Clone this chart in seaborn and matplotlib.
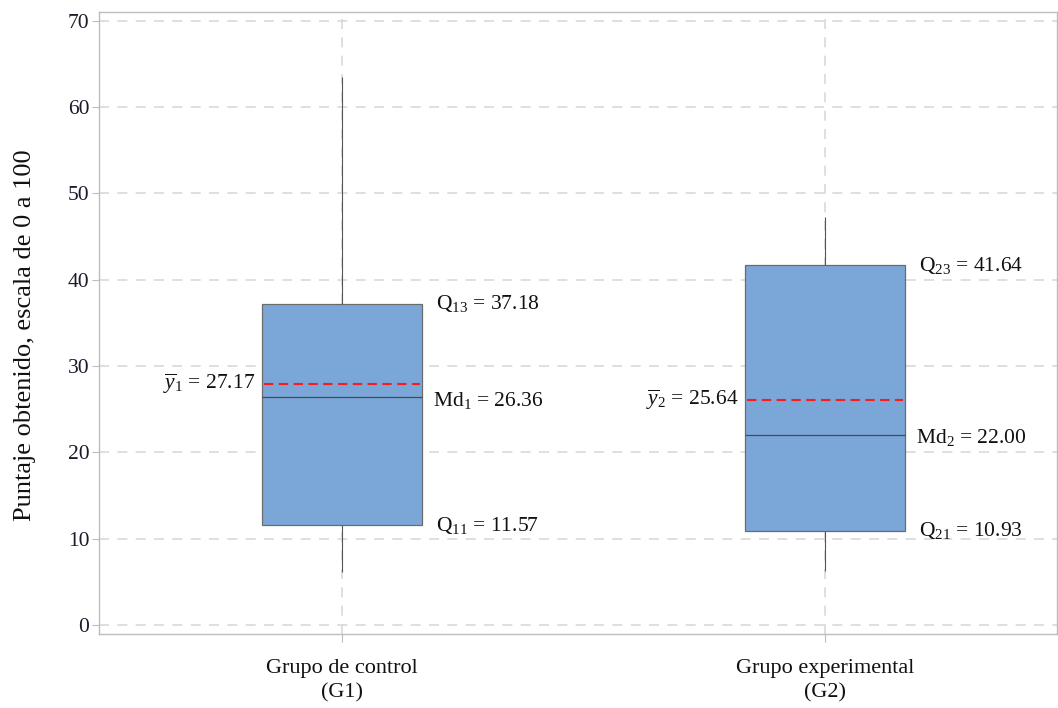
import numpy as np
import pandas as pd
import matplotlib
matplotlib.use("Agg")
import matplotlib.pyplot as plt
import seaborn as sns

# ---- data ----
groups = ["Grupo de control\n(G1)", "Grupo experimental\n(G2)"]
mins = [6.1, 6.2]
q1s = [11.57, 10.93]
medians = [26.36, 22.00]
q3s = [37.18, 41.64]
maxs = [63.5, 47.3]
means_drawn = [27.9, 26.1]
mean_labels = ["27.17", "25.64"]
q1_labels = ["11.57", "10.93"]
med_labels = ["26.36", "22.00"]
q3_labels = ["37.18", "41.64"]
yticks = [0, 10, 20, 30, 40, 50, 60, 70]

sns.set_theme(style="white")
plt.rcParams["font.family"] = ["Liberation Serif", "DejaVu Serif"]
plt.rcParams["mathtext.fontset"] = "custom"
plt.rcParams["mathtext.rm"] = "Liberation Serif"
plt.rcParams["mathtext.it"] = "Liberation Serif:italic"

# five-number data so that quartiles are exact with linear percentiles
rows = []
for g, a, b, c, d, e in zip(groups, mins, q1s, medians, q3s, maxs):
    for v in (a, b, c, d, e):
        rows.append({"grupo": g, "valor": v})
df = pd.DataFrame(rows)

fig = plt.figure(figsize=(10.58, 7.08), dpi=100)
ax = fig.add_axes([99 / 1058, 1 - 634 / 708, 958 / 1058, 622 / 708])

box_w = 0.33
sns.boxplot(data=df, x="grupo", y="valor", order=groups, whis=(0, 100),
            width=box_w, color="#7BA6D8", saturation=1, linewidth=0.9,
            boxprops=dict(facecolor="#7BA6D8", edgecolor="#6b6b6b"),
            medianprops=dict(color="#4a4a4a", linewidth=0.9),
            whiskerprops=dict(color="#555555", linewidth=0.8),
            capprops=dict(linewidth=0), showcaps=False, fliersize=0,
            ax=ax, zorder=3)

# mean lines
for i, m in enumerate(means_drawn):
    ax.hlines(m, i - box_w / 2 + 0.004, i + box_w / 2 - 0.004, colors="#ff1a1a",
              linestyles=(0, (4.5, 2.6)), linewidth=1.5, zorder=5)

ax.set_ylim(-1.05, 71.0)
ax.set_xlim(-0.503, 1.48)
ax.set_yticks(yticks)
ax.set_yticklabels([str(t) for t in yticks])

grid_kw = dict(color="#d9d9d9", linestyle=(0, (6, 5)), linewidth=1.2)
ax.grid(True, axis="both", **grid_kw)
ax.set_axisbelow(True)

for s in ax.spines.values():
    s.set_visible(True)
    s.set_color("#bdbdbd")
    s.set_linewidth(1.0)

ax.tick_params(axis="y", which="major", left=True, length=5, width=0.8,
               color="#bdbdbd", labelsize=15.5, pad=2, labelcolor="#1a1a2a")
ax.tick_params(axis="x", which="major", bottom=True, length=6, width=0.8,
               color="#bdbdbd", labelsize=16, pad=12, labelcolor="#111111")
for lab in ax.get_xticklabels():
    lab.set_linespacing(1.4)

ax.set_xlabel("")
ax.set_ylabel("Puntaje obtenido, escala de 0 a 100", fontsize=19,
              color="#111111")
ax.yaxis.set_label_coords(-0.066, 0.481)

fs = 15.5
off = 14 * 72 / 100
for i in range(len(groups)):
    xr = i + box_w / 2
    xl = i - box_w / 2
    gi = i + 1
    ax.annotate(f"Q$_{{{gi}3}}$ = {q3_labels[i]}", xy=(xr, q3s[i]),
                xytext=(off, 0), textcoords="offset points",
                ha="left", va="center", fontsize=fs, color="#111111")
    ax.annotate(f"Md$_{{{gi}}}$ = {med_labels[i]}", xy=(xr, medians[i]),
                xytext=(off * 0.8, -2), textcoords="offset points",
                ha="left", va="center", fontsize=fs, color="#111111")
    ax.annotate(f"Q$_{{{gi}1}}$ = {q1_labels[i]}", xy=(xr, q1s[i]),
                xytext=(off, 0), textcoords="offset points",
                ha="left", va="center", fontsize=fs, color="#111111")
    ax.annotate(f"$\\overline{{y}}_{{{gi}}}$ = {mean_labels[i]}",
                xy=(xl, means_drawn[i]),
                xytext=(-7 * 72 / 100, 0), textcoords="offset points",
                ha="right", va="center", fontsize=fs, color="#111111")

fig.savefig("out.png", dpi=100)
